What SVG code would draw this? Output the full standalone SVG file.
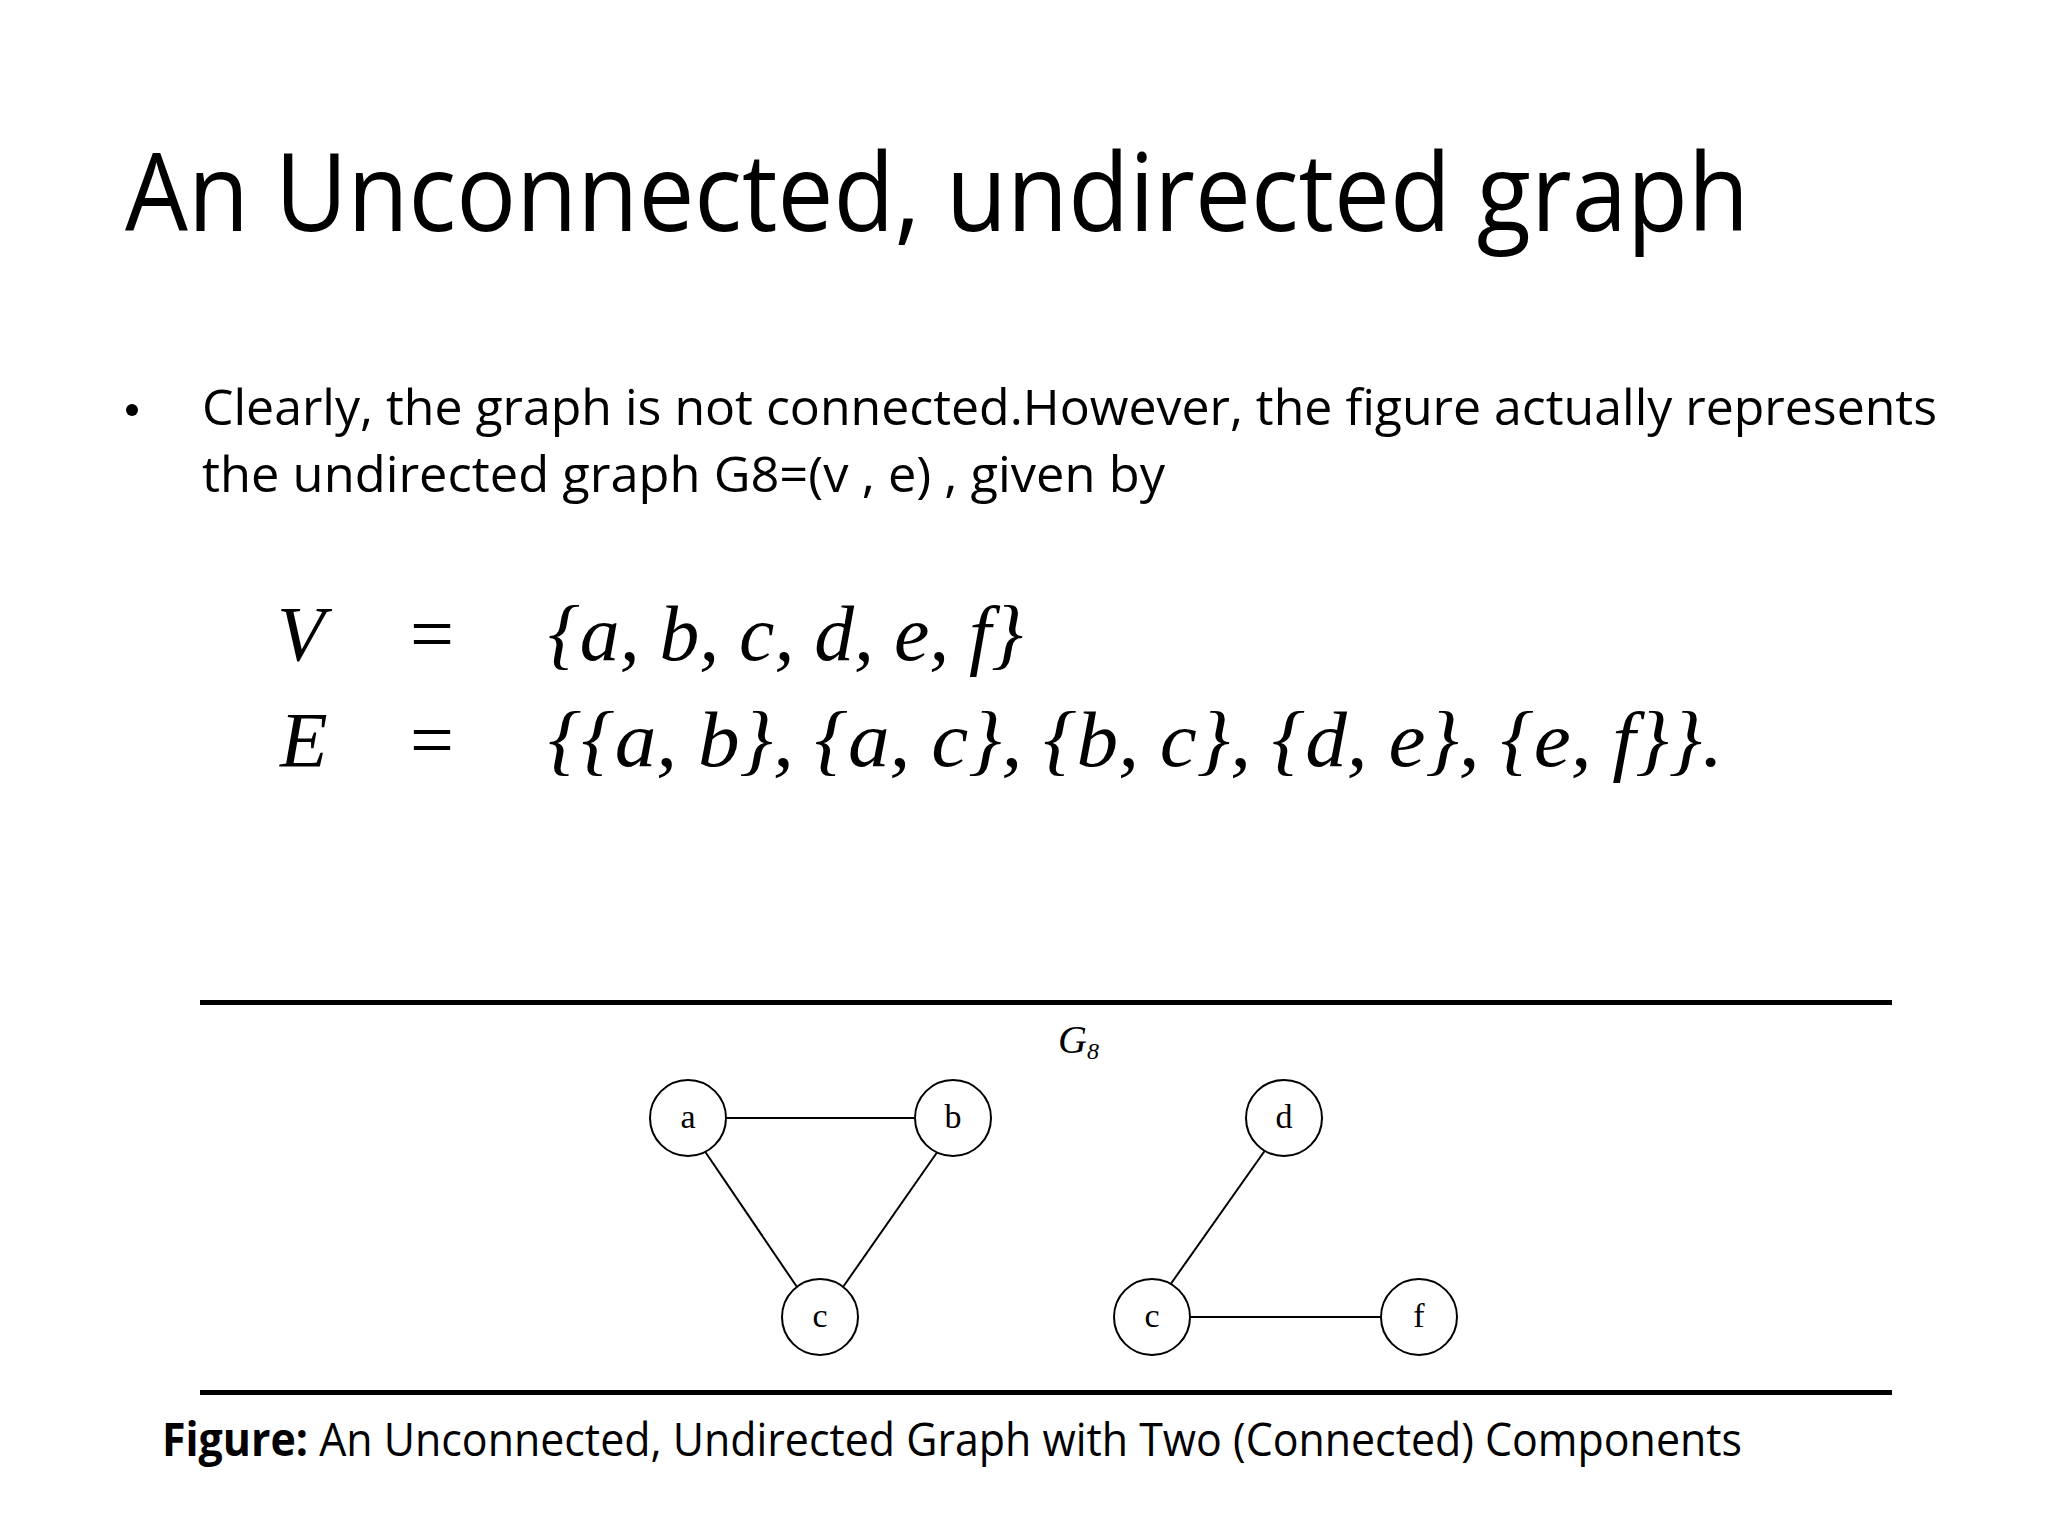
<svg xmlns="http://www.w3.org/2000/svg" width="2048" height="1536" viewBox="0 0 2048 1536">
<style>
.t{font-family:"Open Sans","Noto Sans",sans-serif;fill:#000}
.m{font-family:"Liberation Serif","DejaVu Serif",serif;font-style:italic;fill:#000}
.n circle{fill:#fff;stroke:#000;stroke-width:2}
.n text{font-family:"Liberation Serif",serif;font-size:34px;text-anchor:middle;fill:#000}
.e line{stroke:#000;stroke-width:2}
</style>
<rect width="2048" height="1536" fill="#fff"/>
<text class="t" x="125" y="231" font-size="108" textLength="1624" lengthAdjust="spacingAndGlyphs">An Unconnected, undirected graph</text>
<circle cx="132" cy="410" r="6" fill="#000"/>
<text class="t" x="202" y="425" font-size="50" textLength="1735" lengthAdjust="spacingAndGlyphs">Clearly, the graph is not connected.However, the figure actually represents</text>
<text class="t" x="202" y="492" font-size="50" textLength="963" lengthAdjust="spacingAndGlyphs">the undirected graph G8=(v , e) , given by</text>
<text class="m" x="277" y="660" font-size="78">V</text>
<text class="m" x="405" y="660" font-size="78" font-style="normal">=</text>
<text class="m" x="548" y="660" font-size="78" textLength="475" lengthAdjust="spacingAndGlyphs">{a, b, c, d, e, f}</text>
<text class="m" x="280" y="766" font-size="78">E</text>
<text class="m" x="405" y="766" font-size="78" font-style="normal">=</text>
<text class="m" x="548" y="766" font-size="78" textLength="1175" lengthAdjust="spacingAndGlyphs">{{a, b}, {a, c}, {b, c}, {d, e}, {e, f}}.</text>
<rect x="200" y="1000" width="1692" height="5" fill="#000"/>
<rect x="200" y="1390" width="1692" height="5" fill="#000"/>
<text class="m" x="1058" y="1053" font-size="40">G<tspan font-size="24" dy="6">8</tspan></text>
<g class="e" id="edges">
<line x1="726" y1="1118" x2="915" y2="1118"/>
<line x1="704" y1="1150" x2="797" y2="1287"/>
<line x1="938" y1="1151" x2="843" y2="1287"/>
<line x1="1266" y1="1149" x2="1170" y2="1285"/>
<line x1="1190" y1="1317" x2="1381" y2="1317"/>
</g>
<g class="n" id="node-a"><circle cx="688" cy="1118" r="38"/><text x="688" y="1128">a</text></g>
<g class="n" id="node-b"><circle cx="953" cy="1118" r="38"/><text x="953" y="1128">b</text></g>
<g class="n" id="node-c"><circle cx="820" cy="1317" r="38"/><text x="820" y="1327">c</text></g>
<g class="n" id="node-d"><circle cx="1284" cy="1118" r="38"/><text x="1284" y="1128">d</text></g>
<g class="n" id="node-c2"><circle cx="1152" cy="1317" r="38"/><text x="1152" y="1327">c</text></g>
<g class="n" id="node-f"><circle cx="1419" cy="1317" r="38"/><text x="1419" y="1327">f</text></g>
<text class="t" x="162" y="1456" font-size="46" textLength="1580" lengthAdjust="spacingAndGlyphs"><tspan font-weight="bold">Figure:</tspan> An Unconnected, Undirected Graph with Two (Connected) Components</text>
</svg>
